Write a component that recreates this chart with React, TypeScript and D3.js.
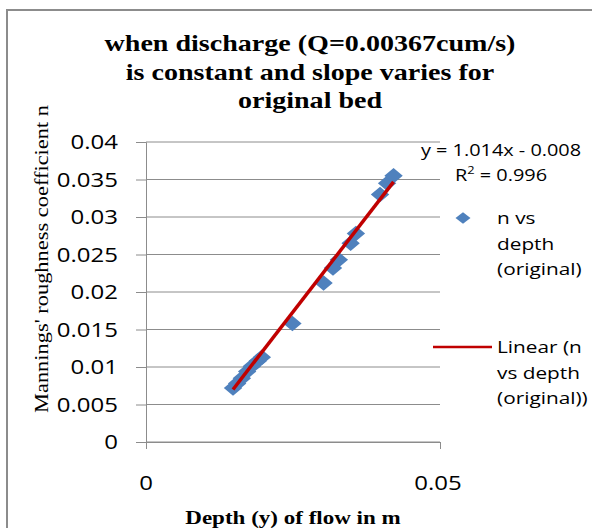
import { useEffect, useRef } from "react";
import * as d3 from "d3";

const WIDTH = 592;
const HEIGHT = 528;
const MARGIN = { top: 142, right: 152, bottom: 86, left: 146 };

// depth (m) vs Manning's n
const depth = [0.0148, 0.0155, 0.0163, 0.0172, 0.018, 0.019, 0.0197, 0.0249, 0.0302, 0.0318, 0.0328, 0.0348, 0.0357, 0.0398, 0.041, 0.0421];
const nValues = [0.0072, 0.0078, 0.0085, 0.0094, 0.0101, 0.0108, 0.0113, 0.0158, 0.0212, 0.0232, 0.0243, 0.0265, 0.0278, 0.033, 0.0345, 0.0355];
const yTicks = [0, 0.005, 0.01, 0.015, 0.02, 0.025, 0.03, 0.035, 0.04];
const xTicks = [0, 0.05];
const titleLines = ["when discharge (Q=0.00367cum/s)", "is constant and slope varies for", "original bed"];
const legendPoints = ["n vs", "depth", "(original)"];
const legendLine = ["Linear (n", "vs depth", "(original))"];
const slope = 1.014;
const intercept = -0.008;
const rSquared = 0.996;

const SERIF = "'Liberation Serif', 'DejaVu Serif', serif";
const SANS = "'Open Sans', 'Noto Sans', sans-serif";
const STRETCH = 1.24; // the picture is stretched sideways

type Sel = d3.Selection<any, unknown, null, undefined>;

// text drawn at (x, y) and widened by sx
const wideText = (
  parent: Sel,
  x: number,
  y: number,
  str: string,
  o: { size: number; family: string; weight?: string; anchor?: string; sx?: number },
) =>
  parent
    .append("text")
    .attr("transform", `translate(${x},${y}) scale(${o.sx ?? STRETCH},1)`)
    .attr("text-anchor", o.anchor ?? "start")
    .attr("font-family", o.family)
    .attr("font-weight", o.weight ?? "normal")
    .attr("font-size", o.size)
    .attr("fill", "#000")
    .text(str);

export default function App() {
  const ref = useRef<SVGSVGElement>(null);

  useEffect(() => {
    if (!ref.current) return;
    const svg = d3.select(ref.current) as unknown as Sel;
    svg.selectAll("*").remove();

    const bw = WIDTH - MARGIN.left - MARGIN.right;
    const bh = HEIGHT - MARGIN.top - MARGIN.bottom;
    const x = d3.scaleLinear().domain([0, 0.05]).range([0, bw]);
    const y = d3.scaleLinear().domain([0, 0.04]).range([bh, 0]);

    // outer chart border
    svg.append("path").attr("d", `M7,${HEIGHT} V10 H${WIDTH}`).attr("fill", "none").attr("stroke", "#8c8c8c").attr("stroke-width", 2);

    // title
    titleLines.forEach((t, i) =>
      wideText(svg, 310, 51 + i * 28.5, t, { size: 23, family: SERIF, weight: "bold", anchor: "middle", sx: 1.22 }),
    );

    const g = svg.append("g").attr("transform", `translate(${MARGIN.left},${MARGIN.top})`);

    // gridlines
    g.append("g")
      .selectAll("line")
      .data(yTicks)
      .join("line")
      .attr("x1", 0)
      .attr("x2", bw)
      .attr("y1", (d) => y(d))
      .attr("y2", (d) => y(d))
      .attr("stroke", "#8c8c8c")
      .attr("stroke-width", 1);

    // y axis
    const yAxis = g.append("g").call(d3.axisLeft(y).tickValues(yTicks).tickSize(10).tickFormat(() => ""));
    yAxis.select(".domain").attr("stroke", "#8c8c8c");
    yAxis.selectAll(".tick line").attr("stroke", "#8c8c8c");
    yTicks.forEach((t) => wideText(g, -28, y(t) + 7, String(t), { size: 20, family: SANS, anchor: "end", sx: 1.2 }));

    // x axis
    const xAxis = g
      .append("g")
      .attr("transform", `translate(0,${bh})`)
      .call(d3.axisBottom(x).tickValues(xTicks).tickSize(7).tickFormat(() => ""));
    xAxis.select(".domain").attr("stroke", "#8c8c8c");
    xAxis.selectAll(".tick line").attr("stroke", "#8c8c8c");
    xTicks.forEach((t) => wideText(g, x(t) - (t ? 2 : 0), bh + 48, String(t), { size: 20, family: SANS, anchor: "middle", sx: 1.2 }));

    // points
    const diamond = d3.symbol().type(d3.symbolDiamond2).size(150);
    g.append("g")
      .selectAll("path")
      .data(depth)
      .join("path")
      .attr("d", diamond)
      .attr("transform", (d, i) => `translate(${x(d)},${y(nValues[i])}) scale(1.2,1)`)
      .attr("fill", "#4f81bd");

    // linear trendline
    const [xMin, xMax] = d3.extent(depth) as [number, number];
    g.append("line")
      .attr("x1", x(xMin))
      .attr("y1", y(slope * xMin + intercept))
      .attr("x2", x(xMax))
      .attr("y2", y(slope * xMax + intercept))
      .attr("stroke", "#c00000")
      .attr("stroke-width", 3.5);

    // equation
    wideText(svg, 501, 156, `y = ${slope}x - ${Math.abs(intercept)}`, { size: 17, family: SANS, anchor: "middle", sx: 1.17 });
    const r2 = wideText(svg, 501, 181, "", { size: 17, family: SANS, anchor: "middle", sx: 1.17 });
    r2.append("tspan").text("R");
    r2.append("tspan").attr("font-size", 11).attr("dy", -7).text("2");
    r2.append("tspan").attr("dy", 7).text(` = ${rSquared}`);

    // legend
    svg.append("path").attr("d", d3.symbol().type(d3.symbolDiamond2).size(85)).attr("transform", "translate(463,218) scale(1.3,1)").attr("fill", "#4f81bd");
    legendPoints.forEach((t, i) => wideText(svg, 497, 224 + i * 25.5, t, { size: 16, family: SANS, sx: 1.3 }));

    svg.append("line").attr("x1", 433).attr("x2", 492).attr("y1", 347).attr("y2", 347).attr("stroke", "#c00000").attr("stroke-width", 2.5);
    legendLine.forEach((t, i) => wideText(svg, 497, 353 + i * 25.5, t, { size: 16, family: SANS, sx: 1.3 }));

    // axis titles
    svg.append("text")
      .attr("transform", "translate(48,259) rotate(-90)")
      .attr("text-anchor", "middle")
      .attr("font-family", SERIF)
      .attr("font-size", 19)
      .attr("textLength", 308)
      .attr("lengthAdjust", "spacingAndGlyphs")
      .attr("fill", "#000")
      .text("Mannings' roughness coefficient n");

    wideText(svg, 293, 524, "Depth (y) of flow in m", { size: 18, family: SERIF, weight: "bold", anchor: "middle", sx: 1.28 });
  }, []);

  return (
    <svg
      ref={ref}
      width={WIDTH}
      height={HEIGHT}
      style={{ position: "absolute", left: 0, top: 0, background: "#fff" }}
    />
  );
}
